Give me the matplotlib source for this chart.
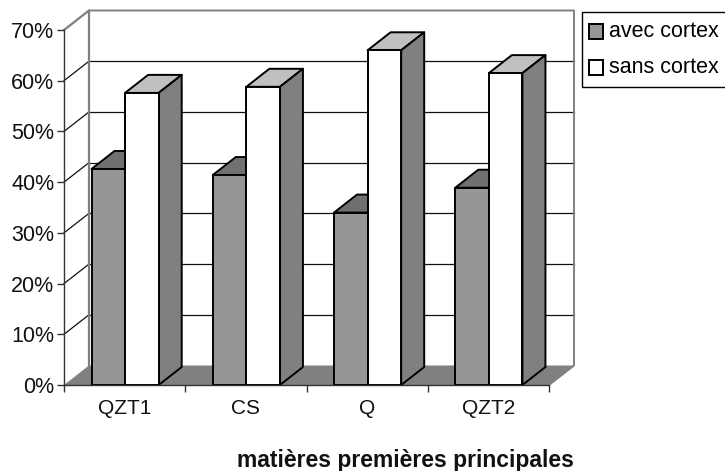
import matplotlib
matplotlib.use('Agg')
import matplotlib.pyplot as plt
from matplotlib.patches import Patch, Polygon

plt.rcParams['font.family'] = ['Liberation Sans', 'DejaVu Sans']

categories = ['QZT1', 'CS', 'Q', 'QZT2']
avec_cortex = [42.6, 41.4, 34.0, 38.9]
sans_cortex = [57.6, 58.8, 66.0, 61.5]
y_ticks = [0, 10, 20, 30, 40, 50, 60, 70]
y_labels = ['0%', '10%', '20%', '30%', '40%', '50%', '60%', '70%']

W, H = 725, 471
fig = plt.figure(figsize=(W / 100, H / 100), dpi=100)
ax = fig.add_axes([64 / W, (H - 385) / H, 485 / W, 355 / H])
ax.set_xlim(0, 4)
ax.set_ylim(0, 70)

# 3D depth in data units
wall_dx = 25 / 485 * 4
wall_dy = 19.5 / 355 * 70
bar_dx = 23 / 485 * 4
bar_dy = 18 / 355 * 70
bar_w = 0.277
bar_off = 0.227

grid_grey = '#808080'

# floor
ax.add_patch(Polygon([(0, 0), (wall_dx, wall_dy), (4 + wall_dx, wall_dy), (4, 0)],
                     closed=True, fc=grid_grey, ec='none', clip_on=False, zorder=1))

# gridlines on back wall and left wall
for t in y_ticks[1:-1]:
    ax.plot([wall_dx, 4 + wall_dx], [t + wall_dy, t + wall_dy], color='#111111', lw=0.9,
            clip_on=False, zorder=1)
    ax.plot([0, wall_dx], [t, t + wall_dy], color='#111111', lw=0.9, clip_on=False, zorder=1)

# wall frame
ax.plot([0, wall_dx, wall_dx], [70, 70 + wall_dy, wall_dy], color=grid_grey, lw=1.6,
        clip_on=False, zorder=1.5)
ax.plot([wall_dx, 4 + wall_dx, 4 + wall_dx, 4], [70 + wall_dy, 70 + wall_dy, wall_dy, 0],
        color=grid_grey, lw=1.4, clip_on=False, zorder=1.5)


def draw_bar(x, v, front, top, side, z):
    ax.bar(x, v, bar_w, align='edge', color=front, edgecolor='black', linewidth=1.4, zorder=z + 0.2,
           clip_on=False)
    ax.add_patch(Polygon([(x, v), (x + bar_dx, v + bar_dy), (x + bar_w + bar_dx, v + bar_dy), (x + bar_w, v)],
                         closed=True, fc=top, ec='black', lw=1.4, joinstyle='round', clip_on=False, zorder=z))
    ax.add_patch(Polygon([(x + bar_w, 0), (x + bar_w + bar_dx, bar_dy), (x + bar_w + bar_dx, v + bar_dy), (x + bar_w, v)],
                         closed=True, fc=side, ec='black', lw=1.4, joinstyle='round', clip_on=False, zorder=z))


for i in range(len(categories)):
    draw_bar(i + bar_off, avec_cortex[i], '#969696', '#707070', '#707070', 2)
    draw_bar(i + bar_off + bar_w, sans_cortex[i], '#ffffff', '#c0c0c0', '#808080', 3)

for s in ['top', 'right']:
    ax.spines[s].set_visible(False)
ax.patch.set_visible(False)
for s in ['left', 'bottom']:
    ax.spines[s].set_color('#333333')
    ax.spines[s].set_linewidth(1.0)
    ax.spines[s].set_zorder(5)

ax.set_yticks(y_ticks)
ax.set_yticklabels(y_labels, fontsize=15.5, color='#111111')
ax.set_xticks([0, 1, 2, 3, 4])
ax.set_xticklabels([])
ax.set_xticks([0.5, 1.5, 2.5, 3.5], categories, minor=True, fontsize=15, color='#111111')
ax.tick_params(axis='y', length=5, width=1, pad=2, color='#333333')
ax.tick_params(axis='x', which='major', length=5, width=1, color='#333333')
ax.tick_params(axis='x', which='minor', length=0, pad=10)

fig.text(405.5 / W, (H - 460) / H, 'matières premières principales', fontsize=16.5,
         fontweight='bold', ha='center', va='center', color='#111111')

handles = [Patch(fc='#969696', ec='black', lw=1.4, label='avec cortex'),
           Patch(fc='#ffffff', ec='black', lw=1.4, label='sans cortex')]
leg = fig.legend(handles=handles, loc='upper left', bbox_to_anchor=(582 / W, (H - 12) / H),
                 frameon=True, fancybox=False, edgecolor='black', framealpha=1, fontsize=15.5,
                 handlelength=0.65, handleheight=0.65, handletextpad=0.19, labelspacing=0.7,
                 borderpad=0.42, borderaxespad=0)
leg.get_frame().set_linewidth(1.0)

# nudge swatches a little left and down, like the original
for h in leg.legend_handles:
    h.set_x(h.get_x() - 1.2)
    h.set_y(h.get_y() - 1.5)

fig.savefig('out.png', dpi=100)
